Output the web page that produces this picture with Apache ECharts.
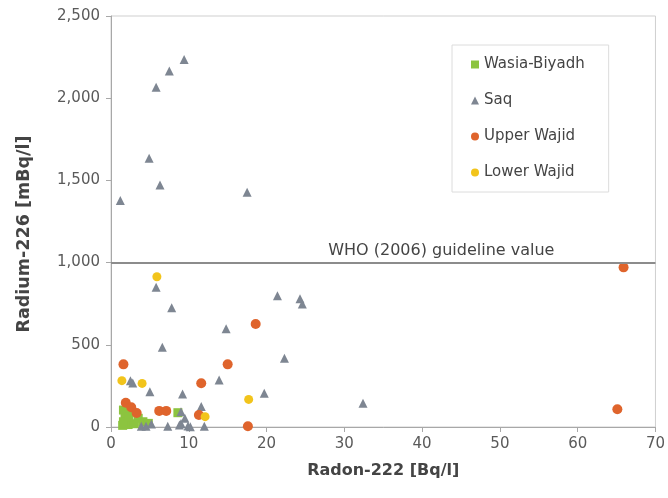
<!DOCTYPE html>
<html>
<head>
<meta charset="utf-8">
<script src="https://cdn.jsdelivr.net/npm/echarts@6/dist/echarts.min.js"></script>
<style>
html,body{margin:0;padding:0;background:#fff;}
#chart{width:668px;height:498px;}
</style>
</head>
<body>
<div id="chart"></div>
<script>
// Radon-222 [Bq/l], Radium-226 [mBq/l]
const wasiaBiyadh = [
  [1.6, 103], [1.8, 73], [1.6, 32], [2.6, 93], [3.5, 53], [4.1, 32], [4.8, 22],
  [2.2, 15], [3.0, 20], [2.3, 60], [1.5, 10], [8.6, 87]
];
const saq = [
  [1.2, 1378], [5.8, 2066], [7.5, 2166], [9.4, 2236], [4.9, 1634], [6.3, 1472], [17.5, 1428],
  [5.8, 850], [7.8, 725], [6.6, 485], [14.8, 598], [21.4, 798], [24.3, 780], [24.6, 748],
  [22.3, 418], [13.9, 286], [19.7, 205], [9.2, 200], [5.0, 215], [2.5, 282], [2.8, 268],
  [32.4, 144], [11.6, 124], [9.0, 93], [9.5, 53], [9.0, 22], [9.9, 6], [3.9, 5], [4.5, 5],
  [5.2, 18], [7.3, 5], [8.8, 12], [12.0, 5], [10.2, 2]
];
const upperWajid = [
  [1.6, 381], [15.0, 381], [11.6, 266], [18.6, 626], [1.9, 148], [2.6, 120], [3.3, 85],
  [6.2, 98], [7.1, 98], [11.3, 73], [17.6, 5], [65.9, 971], [65.1, 108]
];
const lowerWajid = [
  [5.9, 914], [1.4, 282], [4.0, 265], [17.7, 168], [12.1, 63]
];
const whoGuideline = 1000;
const whoLabel = 'WHO (2006) guideline value';
const xTitle = 'Radon-222 [Bq/l]';
const yTitle = 'Radium-226 [mBq/l]';

const FONT = '"DejaVu Sans", sans-serif';
const chart = echarts.init(document.getElementById('chart'), null, {renderer: 'canvas'});
chart.setOption({
  animation: false,
  backgroundColor: '#ffffff',
  textStyle: {fontFamily: FONT},
  grid: {left: 111, right: 9, top: 16, bottom: 71, show: true, borderColor: '#cfcfcf', borderWidth: 1},
  legend: {
    orient: 'vertical', left: 452, top: 45,
    padding: [12, 24, 12, 19], itemGap: 21, itemWidth: 8, itemHeight: 8,
    borderColor: '#dcdcdc', borderWidth: 1, backgroundColor: '#fff',
    textStyle: {fontSize: 15, color: '#444', fontFamily: FONT},
    data: ['Wasia-Biyadh', 'Saq', 'Upper Wajid', 'Lower Wajid']
  },
  xAxis: {
    type: 'value', min: 0, max: 70, interval: 10,
    name: xTitle, nameLocation: 'middle', nameGap: 36,
    nameTextStyle: {fontSize: 16, fontWeight: 'bold', color: '#444', fontFamily: FONT},
    axisLine: {show: true, lineStyle: {color: '#a8a8a8', width: 1}},
    axisTick: {show: true, length: 5, lineStyle: {color: '#a8a8a8'}},
    axisLabel: {fontSize: 15, color: '#5a5a5a', margin: 10, fontFamily: FONT},
    splitLine: {show: false}
  },
  yAxis: {
    type: 'value', min: 0, max: 2500, interval: 500,
    name: yTitle, nameLocation: 'middle', nameGap: 78,
    nameTextStyle: {fontSize: 17.5, fontWeight: 'bold', color: '#444', fontFamily: FONT,
      padding: [0, 25, 0, 0]},
    axisLine: {show: true, lineStyle: {color: '#a8a8a8', width: 1}},
    axisTick: {show: true, length: 5, lineStyle: {color: '#a8a8a8'}},
    axisLabel: {fontSize: 15, color: '#5a5a5a', margin: 11, fontFamily: FONT,
      formatter: v => v.toLocaleString('en-US')},
    splitLine: {show: false}
  },
  series: [
    {name: 'Wasia-Biyadh', type: 'scatter', symbol: 'rect', symbolSize: 9,
     itemStyle: {color: '#8cc43f', opacity: 1}, data: wasiaBiyadh},
    {name: 'Saq', type: 'scatter', symbol: 'triangle', symbolSize: 9,
     itemStyle: {color: '#7e8692', opacity: 1}, data: saq,
     markLine: {
       silent: true, symbol: ['none', 'none'],
       lineStyle: {color: '#8c8c8c', width: 2, type: 'solid'},
       label: {show: true, position: 'insideEndTop', distance: [101, 4], formatter: whoLabel,
         fontSize: 16, color: '#444', fontFamily: FONT},
       data: [{yAxis: whoGuideline}]
     }},
    {name: 'Upper Wajid', type: 'scatter', symbol: 'circle', symbolSize: 10,
     itemStyle: {color: '#df642c', opacity: 1}, data: upperWajid},
    {name: 'Lower Wajid', type: 'scatter', symbol: 'circle', symbolSize: 9,
     itemStyle: {color: '#f2c41b', opacity: 1}, data: lowerWajid}
  ]
});
</script>
</body>
</html>
